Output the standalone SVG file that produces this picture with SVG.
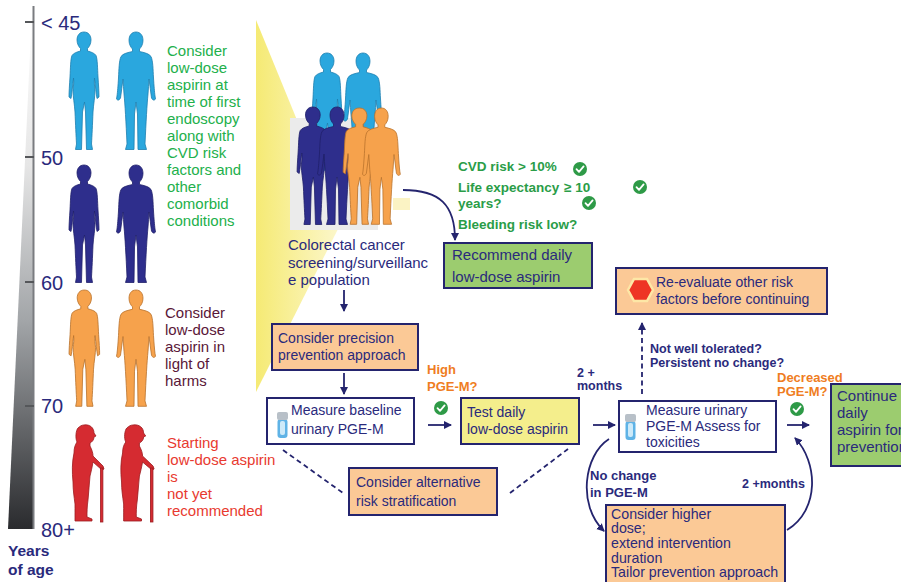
<svg xmlns="http://www.w3.org/2000/svg" xmlns:xlink="http://www.w3.org/1999/xlink" width="901" height="582" viewBox="0 0 901 582">
  <style>
    .t { font-family: "Liberation Sans", Arial, sans-serif; fill: #2a2a7c; }
    .b { font-weight: bold; }
    .s14 { font-size: 14px; }
    .s15 { font-size: 15px; }
    .age { font-size: 20px; }
    .green { fill: #22b04b; }
    .dgreen { fill: #2a9d48; }
    .maroon { fill: #5a1738; }
    .red { fill: #e83a30; }
    .orange { fill: #ef7d22; }
    .box { stroke: #24246e; stroke-width: 2; }
    .peach { fill: #fbc996; }
    .lime { fill: #9ccc6f; }
    .yel { fill: #f4ee8c; }
    .white { fill: #ffffff; }
    .conn { fill: none; stroke: #24246e; stroke-width: 1.8; }
    .dash { stroke-dasharray: 5 3.5; }
    .pBlue { fill: #2aa7de; stroke: #1d7fb0; stroke-width: 0.8; }
    .pNavy { fill: #2e2e8c; stroke: #20206a; stroke-width: 0.8; }
    .pOrange { fill: #f6a24c; stroke: #b8722c; stroke-width: 0.8; }
    .pRed { fill: #d52b31; stroke: #9c1c20; stroke-width: 0.8; }
  </style>
  <defs>
    <linearGradient id="ageGrad" x1="0" y1="0" x2="0" y2="1">
      <stop offset="0" stop-color="#ffffff"/>
      <stop offset="0.3" stop-color="#e6e6e6"/>
      <stop offset="0.6" stop-color="#a2a5a8"/>
      <stop offset="1" stop-color="#2a2b2e"/>
    </linearGradient>
    <linearGradient id="beam" x1="0" y1="0" x2="1" y2="0">
      <stop offset="0" stop-color="#f5ea74"/>
      <stop offset="1" stop-color="#fcf7cc"/>
    </linearGradient>
    <marker id="arr" markerUnits="userSpaceOnUse" markerWidth="10" markerHeight="10" refX="7" refY="4" orient="auto">
      <path d="M0,0 L8,4 L0,8 Z" fill="#24246e"/>
    </marker>
    <path id="woman" d="M17,0 C21.5,0 24,3.5 24,8 C24,12 22,15 20.5,16.5 L20.5,19 C24,20 27.5,21 29,23.5 C30.5,27 30.5,36 31,45 C31.5,53 32,60 32,65 L30,66.5 C29,61 28.5,54 27.5,46 C27,50 27.5,54 28,58 C28,65 26.5,72 26,80 C25.5,92 25,104 24.5,112 L25.5,117.5 L19.5,117.5 L18.5,80 L17.5,70 L15.5,80 L14.5,117.5 L8.5,117.5 L9.5,112 C9,104 8.5,92 8,80 C7.5,72 6,65 6,58 C6.5,54 7,50 6.5,46 C5.5,54 5,61 4,66.5 L2,65 C2,60 2.5,53 3,45 C3.5,36 3.5,27 5,23.5 C6.5,21 10,20 13.5,19 L13.5,16.5 C12,15 10,12 10,8 C10,3.5 12.5,0 17,0 Z"/>
    <path id="man" d="M20,0 C24.5,0 27,3.5 27,8.5 C27,12.5 25,15.5 23.5,17 L23.5,19.5 C28,20.5 33,21.5 35,24.5 C37,29 37,37 37.5,46 C38,54 38.5,60 39,64 L39.5,67 C38,69 36.5,68 35.5,66 C34.5,60 34,53 33,47 C32.5,52 32.5,57 32,62 C31,72 30,90 29,112 L30.5,117.5 L22,117.5 L21.5,82 L20,70 L18.5,82 L18,117.5 L9.5,117.5 L11,112 C10,90 9,72 8,62 C7.5,57 7.5,52 7,47 C6,53 5.5,60 4.5,66 C3.5,68 2,69 0.5,67 L1,64 C1.5,60 2,54 2.5,46 C3,37 3,29 5,24.5 C7,21.5 12,20.5 16.5,19.5 L16.5,17 C15,15.5 13,12.5 13,8.5 C13,3.5 15.5,0 20,0 Z"/>
    <!-- stooped figure in profile leaning on a cane -->
    <g id="elder">
      <path d="M22,5 C28,4 32,8 32,13 L34,16 L32,17 C32,20 30,22 28,23 L28,26 C30,30 31,33 31,36 L41,46 L42,49 L40,50 L31,42 C30,48 29,52 28,56 C27,64 27,72 26,80 C25,87 25,92 25,97 L30,99 L30,101 L13,101 C13,96 13,90 13,84 C12,76 11,70 11,62 C10,52 10,42 12,33 C12,28 13,25 15,22 C13,18 14,10 16,8 C18,6 20,5 22,5 Z"/>
      <rect x="38.5" y="48" width="2.4" height="54"/>
    </g>
    <g id="check">
      <circle r="7" fill="#2e9a47"/>
      <path d="M-3.5,0.2 L-1,2.8 L3.6,-2.6" fill="none" stroke="#ffffff" stroke-width="1.8" stroke-linecap="round" stroke-linejoin="round"/>
    </g>
    <g id="vial">
      <rect x="0.5" y="7" width="10" height="19" rx="3" fill="#5fb3e6"/>
      <rect x="3" y="9" width="5" height="14" rx="2" fill="#cdeaf9"/>
      <rect x="0" y="0" width="11" height="8" rx="2" fill="#b8c0c8"/>
    </g>
  </defs>

  <rect width="901" height="582" fill="#ffffff"/>

  <!-- age scale -->
  <g id="age-scale">
    <polygon points="32,9 34,9 34,529 8,529" fill="url(#ageGrad)"/>
    <line x1="33.5" y1="6" x2="33.5" y2="529" stroke="#7a7c80" stroke-width="2"/>
    <g stroke="#55575a" stroke-width="2">
      <line x1="25" y1="22" x2="34" y2="22"/>
      <line x1="25" y1="157" x2="34" y2="157"/>
      <line x1="25" y1="282" x2="34" y2="282"/>
      <line x1="25" y1="406" x2="34" y2="406"/>
    </g>
    <text class="t age" x="41" y="30">&lt; 45</text>
    <text class="t age" x="41" y="165">50</text>
    <text class="t age" x="41" y="290">60</text>
    <text class="t age" x="41" y="413">70</text>
    <text class="t age" x="41" y="537">80+</text>
    <text class="t b" font-size="15.5" x="8" y="556">Years</text>
    <text class="t b" font-size="15.5" x="8" y="575">of age</text>
  </g>

  <!-- people by age band -->
  <g id="band-under50">
    <use href="#woman" class="pBlue" transform="translate(67,32)"/>
    <use href="#man" class="pBlue" transform="translate(116,32)"/>
    <text class="t s15 green">
      <tspan x="167" y="56">Consider</tspan>
      <tspan x="167" y="73">low-dose</tspan>
      <tspan x="167" y="90">aspirin at</tspan>
      <tspan x="167" y="107">time of first</tspan>
      <tspan x="167" y="124">endoscopy</tspan>
      <tspan x="167" y="141">along with</tspan>
      <tspan x="167" y="158">CVD risk</tspan>
      <tspan x="167" y="175">factors and</tspan>
      <tspan x="167" y="192">other</tspan>
      <tspan x="167" y="209">comorbid</tspan>
      <tspan x="167" y="226">conditions</tspan>
    </text>
  </g>
  <g id="band-50s">
    <use href="#woman" class="pNavy" transform="translate(67,165)"/>
    <use href="#man" class="pNavy" transform="translate(116,165)"/>
  </g>
  <g id="band-60s">
    <use href="#woman" class="pOrange" transform="translate(67,290) scale(1.02,0.99)"/>
    <use href="#man" class="pOrange" transform="translate(116,290) scale(1,0.99)"/>
    <text class="t s15 maroon">
      <tspan x="165" y="318">Consider</tspan>
      <tspan x="165" y="335">low-dose</tspan>
      <tspan x="165" y="352">aspirin in</tspan>
      <tspan x="165" y="369">light of</tspan>
      <tspan x="165" y="386">harms</tspan>
    </text>
  </g>
  <g id="band-80plus">
    <use href="#elder" class="pRed" transform="translate(62,420)"/>
    <use href="#elder" class="pRed" transform="translate(110,420) scale(1.05,1)"/>
    <text class="t s15 red">
      <tspan x="167" y="448">Starting</tspan>
      <tspan x="167" y="465">low-dose aspirin</tspan>
      <tspan x="167" y="482">is</tspan>
      <tspan x="167" y="499">not yet</tspan>
      <tspan x="167" y="516">recommended</tspan>
    </text>
  </g>

  <!-- screening population -->
  <g id="population">
    <polygon points="256,20 340,225 256,392" fill="url(#beam)"/>
    <rect x="290" y="118" width="88" height="112" fill="#ebebeb"/>
    <rect x="393" y="198" width="17" height="12" fill="#fbf3c4"/>
    <use href="#woman" class="pBlue" transform="translate(310,53)"/>
    <use href="#man" class="pBlue" transform="translate(343,53)"/>
    <use href="#woman" class="pNavy" transform="translate(295,107) scale(1.05,1)"/>
    <use href="#man" class="pNavy" transform="translate(317,107)"/>
    <use href="#woman" class="pOrange" transform="translate(341,108) scale(1.08,0.99)"/>
    <use href="#man" class="pOrange" transform="translate(362,108) scale(0.97,0.99)"/>
    <text class="t s15">
      <tspan x="288" y="250">Colorectal cancer</tspan>
      <tspan x="288" y="268">screening/surveillanc</tspan>
      <tspan x="288" y="285">e population</tspan>
    </text>
  </g>

  <!-- criteria -->
  <g id="criteria">
    <text class="t b dgreen" font-size="13.5" x="458" y="171">CVD risk &gt; 10%</text>
    <text class="t b dgreen" font-size="13.5" x="458" y="192">Life expectancy</text>
    <text class="t b dgreen" font-size="13.5" x="564" y="192">≥ 10</text>
    <text class="t b dgreen" font-size="13.5" x="458" y="208">years?</text>
    <text class="t b dgreen" font-size="13.5" x="458" y="229">Bleeding risk low?</text>
    <use href="#check" x="580" y="169"/>
    <use href="#check" x="640" y="187"/>
    <use href="#check" x="589" y="203"/>
  </g>

  <g id="recommend">
    <rect class="box lime" x="444" y="243" width="148" height="45"/>
    <text class="t s15"><tspan x="452" y="260">Recommend daily</tspan><tspan x="452" y="282">low-dose aspirin</tspan></text>
  </g>

  <g id="precision">
    <rect class="box peach" x="272" y="324" width="146" height="46"/>
    <text class="t s14"><tspan x="278" y="343">Consider precision</tspan><tspan x="278" y="360">prevention approach</tspan></text>
  </g>

  <g id="baseline">
    <rect class="box white" x="267" y="398" width="147" height="46"/>
    <use href="#vial" x="277" y="412"/>
    <text class="t s14"><tspan x="291" y="415">Measure baseline</tspan><tspan x="291" y="434">urinary PGE-M</tspan></text>
  </g>

  <g id="high-pgem">
    <text class="t b orange" font-size="13"><tspan x="427" y="374">High</tspan><tspan x="427" y="391">PGE-M?</tspan></text>
    <use href="#check" x="441" y="408"/>
  </g>

  <g id="test-daily">
    <rect class="box yel" x="461" y="398" width="118" height="46"/>
    <text class="t s14"><tspan x="467" y="417">Test daily</tspan><tspan x="467" y="434">low-dose aspirin</tspan></text>
  </g>

  <g id="alternative">
    <rect class="box peach" x="349" y="468" width="148" height="47"/>
    <text class="t s14"><tspan x="356" y="487">Consider alternative</tspan><tspan x="356" y="506">risk stratification</tspan></text>
  </g>

  <g id="measure-urinary">
    <rect class="box white" x="619" y="401" width="157" height="51"/>
    <use href="#vial" x="625" y="414"/>
    <text class="t s14"><tspan x="646" y="415">Measure urinary</tspan><tspan x="646" y="431">PGE-M Assess for</tspan><tspan x="646" y="447">toxicities</tspan></text>
  </g>

  <g id="reevaluate">
    <rect class="box peach" x="616" y="268" width="211" height="46"/>
    <polygon points="628,290 634,279 647,279 653,290 647,301 634,301" fill="#ee3424" stroke="#fde7a6" stroke-width="2.5"/>
    <text class="t s14"><tspan x="656" y="287">Re-evaluate other risk</tspan><tspan x="656" y="304">factors before continuing</tspan></text>
  </g>

  <g id="decreased">
    <text class="t b orange" font-size="13"><tspan x="777" y="382">Decreased</tspan><tspan x="777" y="396">PGE-M?</tspan></text>
    <use href="#check" x="797" y="409"/>
  </g>

  <g id="continue">
    <rect class="box lime" x="831" y="384" width="80" height="82"/>
    <text class="t s15"><tspan x="837" y="401">Continue</tspan><tspan x="837" y="418">daily</tspan><tspan x="837" y="435">aspirin for</tspan><tspan x="837" y="452">prevention</tspan></text>
  </g>

  <g id="higher-dose">
    <rect class="box peach" x="606" y="505" width="179" height="90"/>
    <text class="t" font-size="14.2"><tspan x="611" y="519">Consider higher</tspan><tspan x="611" y="533">dose;</tspan><tspan x="611" y="548">extend intervention</tspan><tspan x="611" y="563">duration</tspan><tspan x="611" y="577">Tailor prevention approach</tspan></text>
  </g>

  <!-- connector labels -->
  <g id="labels">
    <text class="t b" font-size="12.5"><tspan x="577" y="377">2 +</tspan><tspan x="577" y="390">months</tspan></text>
    <text class="t b" font-size="12.5"><tspan x="650" y="353">Not well tolerated?</tspan><tspan x="650" y="367">Persistent no change?</tspan></text>
    <text class="t b" font-size="13"><tspan x="590" y="480">No change</tspan><tspan x="590" y="497">in PGE-M</tspan></text>
    <text class="t b" font-size="12.5" x="742" y="488">2 +months</text>
  </g>

  <!-- connectors -->
  <g id="connectors">
    <path class="conn" d="M403,190 C440,190 455,205 455,240" marker-end="url(#arr)"/>
    <path class="conn" d="M344,290 L344,311" marker-end="url(#arr)"/>
    <path class="conn" d="M344,373 L344,394" marker-end="url(#arr)"/>
    <path class="conn" d="M428,425 L451,425" marker-end="url(#arr)"/>
    <path class="conn" d="M593,425 L615,425" marker-end="url(#arr)"/>
    <path class="conn" d="M787,425 L809,425" marker-end="url(#arr)"/>
    <path class="conn dash" d="M642,394 L642,323" marker-end="url(#arr)"/>
    <path class="conn dash" d="M283,450 L343,493"/>
    <path class="conn dash" d="M510,493 L568,449"/>
    <path class="conn" d="M609,439 C584,455 577,505 604,531" marker-end="url(#arr)"/>
    <path class="conn" d="M787,530 C820,510 818,462 795,438" marker-end="url(#arr)"/>
  </g>
</svg>
